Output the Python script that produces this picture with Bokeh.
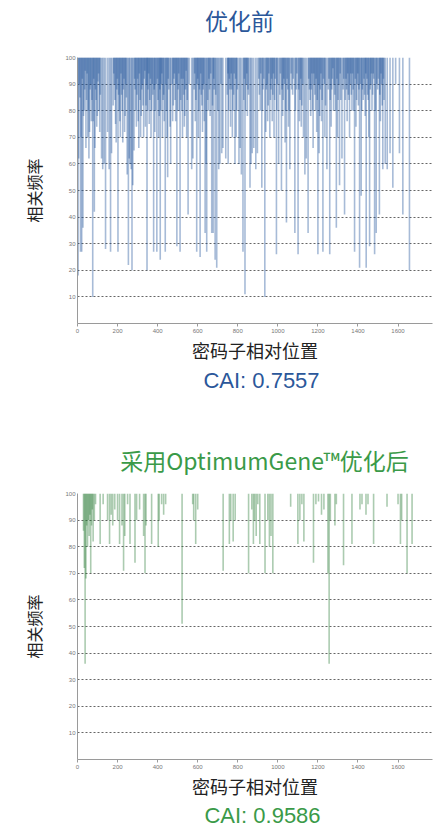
from bokeh.plotting import figure
from bokeh.models import Range1d, FixedTicker, Label, ColumnDataSource
from bokeh.layouts import column
from bokeh.embed import file_html
from bokeh.resources import INLINE

# ---------------- data ----------------
top_pos = [3, 6, 12, 15, 18, 21, 24, 27, 30, 36,
           42, 48, 54, 57, 60, 66, 72, 76, 78, 84,
           90, 96, 102, 108, 114, 126, 140, 150, 165, 178,
           184, 190, 196, 202, 208, 214, 220, 226, 232, 238,
           244, 254, 262, 272, 282, 288, 294, 300, 306, 312,
           318, 324, 330, 336, 342, 347, 352, 358, 364, 370,
           376, 380, 386, 392, 396, 402, 408, 413, 418, 424,
           430, 438, 444, 450, 456, 462, 472, 478, 484, 490,
           496, 502, 508, 512, 518, 524, 530, 536, 542, 548,
           552, 558, 582, 588, 595, 600, 606, 612, 618, 624,
           630, 637, 645, 650, 656, 662, 670, 677, 682, 687,
           695, 700, 711, 716, 748, 752, 758, 764, 770, 776,
           782, 786, 792, 798, 826, 830, 836, 842, 848, 854,
           861, 905, 912, 920, 926, 935, 940, 946, 952, 960,
           966, 972, 978, 984, 993, 998, 1010, 1018, 1024, 1030,
           1036, 1043, 1050, 1056, 1066, 1074, 1085, 1092, 1101, 1108,
           1114, 1120, 1128, 1151, 1158, 1164, 1170, 1176, 1182, 1188,
           1194, 1200, 1206, 1212, 1218, 1225, 1232, 1238, 1252, 1259,
           1266, 1272, 1278, 1284, 1292, 1298, 1304, 1308, 1314, 1326,
           1333, 1340, 1346, 1352, 1358, 1364, 1370, 1376, 1383, 1390,
           1396, 1402, 1408, 1416, 1422, 1430, 1436, 1441, 1448, 1454,
           1458, 1464, 1470, 1476, 1483, 1491, 1498, 1507, 1512, 1518,
           1524, 1530, 1574, 1588, 1607, 1624, 1657,
           9, 33, 39, 45, 51, 63, 69, 81, 87, 93,
           99, 105, 111, 181, 187, 193, 199, 205, 211, 217,
           223, 229, 235, 241, 285, 291, 297, 303, 309, 315,
           321, 327, 333, 339, 345, 350, 355, 361, 367, 373,
           383, 389, 399, 405, 411, 416, 421, 427, 433, 441,
           447, 453, 475, 481, 487, 493, 499, 505, 515, 521,
           527, 533, 539, 545, 585, 591, 597, 603, 609, 615,
           621, 627, 633, 653, 659, 665, 674, 680, 690, 751,
           755, 761, 767, 773, 779, 789, 795, 833, 839, 845,
           851, 908, 915, 923, 930, 943, 949, 955, 963, 969,
           975, 981, 987, 995, 1013, 1021, 1027, 1033, 1039, 1046,
           1053, 1069, 1077, 1088, 1095, 1104, 1111, 1117, 1124, 1154,
           1161, 1167, 1173, 1179, 1185, 1191, 1197, 1203, 1209, 1215,
           1221, 1228, 1235, 1255, 1262, 1269, 1275, 1281, 1288, 1295,
           1301, 1311, 1329, 1337, 1343, 1349, 1355, 1361, 1367, 1373,
           1379, 1387, 1393, 1399, 1405, 1412, 1419, 1426, 1433, 1439,
           1445, 1451, 1461, 1467, 1473, 1479, 1487, 1494, 1502, 1509,
           1515, 1521, 1527,
           120, 133, 158, 170, 248, 258, 268, 276, 465, 570,
           576, 642, 705, 720, 726, 740, 806, 812, 818, 866,
           872, 880, 890, 898, 1004, 1060, 1135, 1142, 1245, 1320,
           1536, 1546, 1560]
top_val = [18, 62, 85, 27, 70, 27, 92, 36, 78, 88,
           66, 94, 80, 62, 72, 90, 84, 10, 76, 42,
           88, 74, 91, 80, 86, 58, 28, 72, 27, 82,
           90, 75, 88, 27, 80, 70, 86, 68, 92, 78,
           85, 22, 60, 20, 65, 88, 74, 92, 66, 84,
           78, 90, 70, 95, 82, 20, 88, 75, 92, 80,
           86, 27, 72, 90, 27, 84, 78, 24, 90, 70,
           86, 27, 80, 55, 88, 74, 90, 82, 94, 76,
           29, 88, 80, 27, 92, 70, 86, 78, 95, 84,
           41, 90, 88, 76, 27, 92, 80, 25, 86, 72,
           90, 34, 27, 84, 92, 78, 34, 34, 88, 24,
           21, 80, 60, 90, 86, 60, 92, 74, 88, 80,
           94, 60, 70, 88, 27, 84, 11, 90, 78, 86,
           51, 92, 80, 51, 88, 10, 72, 90, 82, 70,
           88, 76, 94, 84, 26, 90, 86, 50, 78, 92,
           68, 38, 88, 80, 94, 86, 34, 88, 26, 76,
           92, 82, 70, 34, 88, 78, 94, 66, 90, 80,
           72, 26, 64, 88, 76, 27, 90, 82, 88, 26,
           74, 92, 80, 86, 36, 70, 90, 52, 84, 88,
           41, 92, 76, 86, 70, 94, 80, 88, 27, 74,
           90, 82, 21, 48, 88, 92, 78, 21, 86, 70,
           29, 90, 80, 94, 26, 34, 88, 41, 76, 90,
           58, 84, 51, 90, 64, 41, 20,
           90, 80, 95, 84, 70, 88, 76, 92, 66, 84,
           78, 94, 72, 94, 84, 68, 92, 86, 76, 94,
           80, 88, 72, 90, 92, 80, 86, 76, 94, 70,
           88, 82, 92, 74, 90, 80, 94, 84, 70, 90,
           88, 80, 92, 70, 88, 80, 94, 84, 76, 90,
           70, 92, 76, 92, 84, 90, 80, 94, 84, 80,
           92, 74, 88, 70, 94, 84, 90, 70, 88, 94,
           82, 88, 76, 80, 88, 94, 82, 92, 86, 94,
           80, 88, 94, 70, 86, 92, 80, 92, 80, 94,
           88, 86, 94, 80, 92, 88, 76, 94, 84, 92,
           86, 70, 92, 80, 94, 88, 84, 90, 80, 92,
           74, 88, 92, 80, 94, 88, 84, 74, 90, 92,
           84, 88, 80, 94, 86, 92, 84, 90, 78, 94,
           84, 92, 70, 92, 84, 88, 96, 90, 80, 92,
           84, 94, 92, 84, 88, 94, 84, 90, 86, 94,
           80, 92, 84, 94, 88, 90, 80, 84, 86, 94,
           92, 84, 88, 94, 86, 92, 80, 90, 92, 86,
           94, 82, 92,
           62, 60, 58, 64, 56, 62, 58, 52, 60, 58,
           62, 60, 58, 64, 66, 62, 60, 66, 56, 60,
           64, 66, 58, 64, 60, 58, 56, 62, 58, 62,
           60, 58, 64]

bot_pos = [30, 34, 38, 42, 46, 50, 54, 58, 62, 66,
           70, 74, 78, 84, 90, 113, 128, 150, 160, 168,
           176, 186, 200, 210, 222, 230, 236, 250, 262, 287,
           295, 310, 330, 337, 342, 370, 403, 408, 420, 430,
           440, 522, 575, 580, 590, 600, 727, 758, 765, 777,
           787, 854, 870, 878, 884, 892, 900, 910, 936, 950,
           958, 966, 975, 1064, 1100, 1110, 1120, 1130, 1178, 1190,
           1203, 1218, 1230, 1250, 1256, 1262, 1285, 1292, 1328, 1370,
           1410, 1420, 1440, 1450, 1478, 1545, 1600, 1612, 1618, 1645,
           1670]
bot_val = [86, 72, 36, 68, 88, 80, 90, 84, 92, 70,
           88, 94, 82, 90, 96, 81, 96, 90, 81, 92,
           88, 94, 90, 81, 88, 71, 84, 96, 81, 74,
           90, 94, 84, 70, 88, 81, 80, 90, 96, 92,
           96, 51, 96, 90, 81, 94, 71, 81, 90, 82,
           90, 70, 94, 81, 90, 84, 96, 81, 70, 90,
           80, 84, 70, 95, 81, 90, 96, 82, 74, 96,
           97, 92, 94, 70, 36, 90, 88, 96, 73, 81,
           94, 96, 92, 96, 81, 95, 96, 81, 90, 70,
           81]

y_ticks = [10, 20, 30, 40, 50, 60, 70, 80, 90, 100]
x_ticks = [0, 200, 400, 600, 800, 1000, 1200, 1400, 1600]

title_top = "优化前"
title_bot = "采用OptimumGene™优化后"
x_label = "密码子相对位置"
y_label = "相关频率"
cai_top = "CAI: 0.7557"
cai_bot = "CAI: 0.9586"

BLUE = "#2b579a"
GREEN = "#3a9a48"
CJK = "Noto Sans CJK SC"
W = 439
FRAME_LEFT = 77  # the column aligns every frame to the charts' frame


def text_row(height, txt, cx, cy, font, size, color):
    """A strip holding one line of text; cx is a page x, cy is from the strip bottom."""
    p = figure(width=W, height=height, output_backend="svg", toolbar_location=None,
               x_range=Range1d(0, W), y_range=Range1d(0, height),
               min_border_left=FRAME_LEFT, min_border_right=7,
               min_border_top=0, min_border_bottom=0)
    p.axis.visible = False
    p.grid.visible = False
    p.outline_line_color = None
    p.add_layout(Label(x=cx - FRAME_LEFT, y=cy, x_units="screen", y_units="screen",
                       text=txt, text_align="center", text_baseline="middle",
                       text_font=font, text_font_size=size, text_color=color))
    return p


def chart(pos, val, line_color, height, top, bottom):
    p = figure(width=W, height=height, output_backend="svg", toolbar_location=None,
               x_range=Range1d(0, 1772), y_range=Range1d(0, 100),
               min_border_left=FRAME_LEFT, min_border_right=7,
               min_border_top=top, min_border_bottom=bottom)
    p.outline_line_color = None

    src = ColumnDataSource(dict(pos=pos, val=val))
    p.segment(x0="pos", y0=100, x1="pos", y1="val", source=src,
              line_color=line_color, line_alpha=0.4, line_width=1.6)

    p.xgrid.visible = False
    p.yaxis.ticker = FixedTicker(ticks=y_ticks)
    p.xaxis.ticker = FixedTicker(ticks=x_ticks)
    p.ygrid.grid_line_color = "#666666"
    p.ygrid.grid_line_dash = "2 2"
    p.ygrid.grid_line_width = 1

    for ax in (p.xaxis[0], p.yaxis[0]):
        ax.axis_line_color = "#9a9a9a"
        ax.major_tick_line_color = "#9a9a9a"
        ax.minor_tick_line_color = None
        ax.major_tick_in = 0
        ax.major_tick_out = 3
        ax.major_label_text_font_size = "6px"
        ax.major_label_text_color = "#777777"
        ax.major_label_standoff = 2
        ax.axis_label_text_font = CJK
        ax.axis_label_text_font_style = "normal"
        ax.axis_label_text_color = "#222222"
    p.yaxis.major_tick_out = 0
    p.yaxis.axis_label = y_label
    p.yaxis.axis_label_text_font_size = "16px"
    p.yaxis.axis_label_standoff = 16
    p.xaxis.axis_label = x_label
    p.xaxis.axis_label_text_font_size = "18px"
    p.xaxis.axis_label_standoff = 1
    return p


head1 = text_row(40, title_top, 239, 21, CJK, "23px", BLUE)
chart1 = chart(top_pos, top_val, "#24569c", 325, 17, 40)
foot1 = text_row(35, cai_top, 261, 20, "Liberation Sans", "22px", BLUE)
head2 = text_row(75, title_bot, 264, 16, CJK, "23px", GREEN)
chart2 = chart(bot_pos, bot_val, "#2e7d3a", 326, 18, 40)
foot2 = text_row(29, cai_bot, 262, 15, "Liberation Sans", "22px", GREEN)

layout = column(head1, chart1, foot1, head2, chart2, foot2, spacing=0)
open("out.html", "w").write(file_html(layout, INLINE))
